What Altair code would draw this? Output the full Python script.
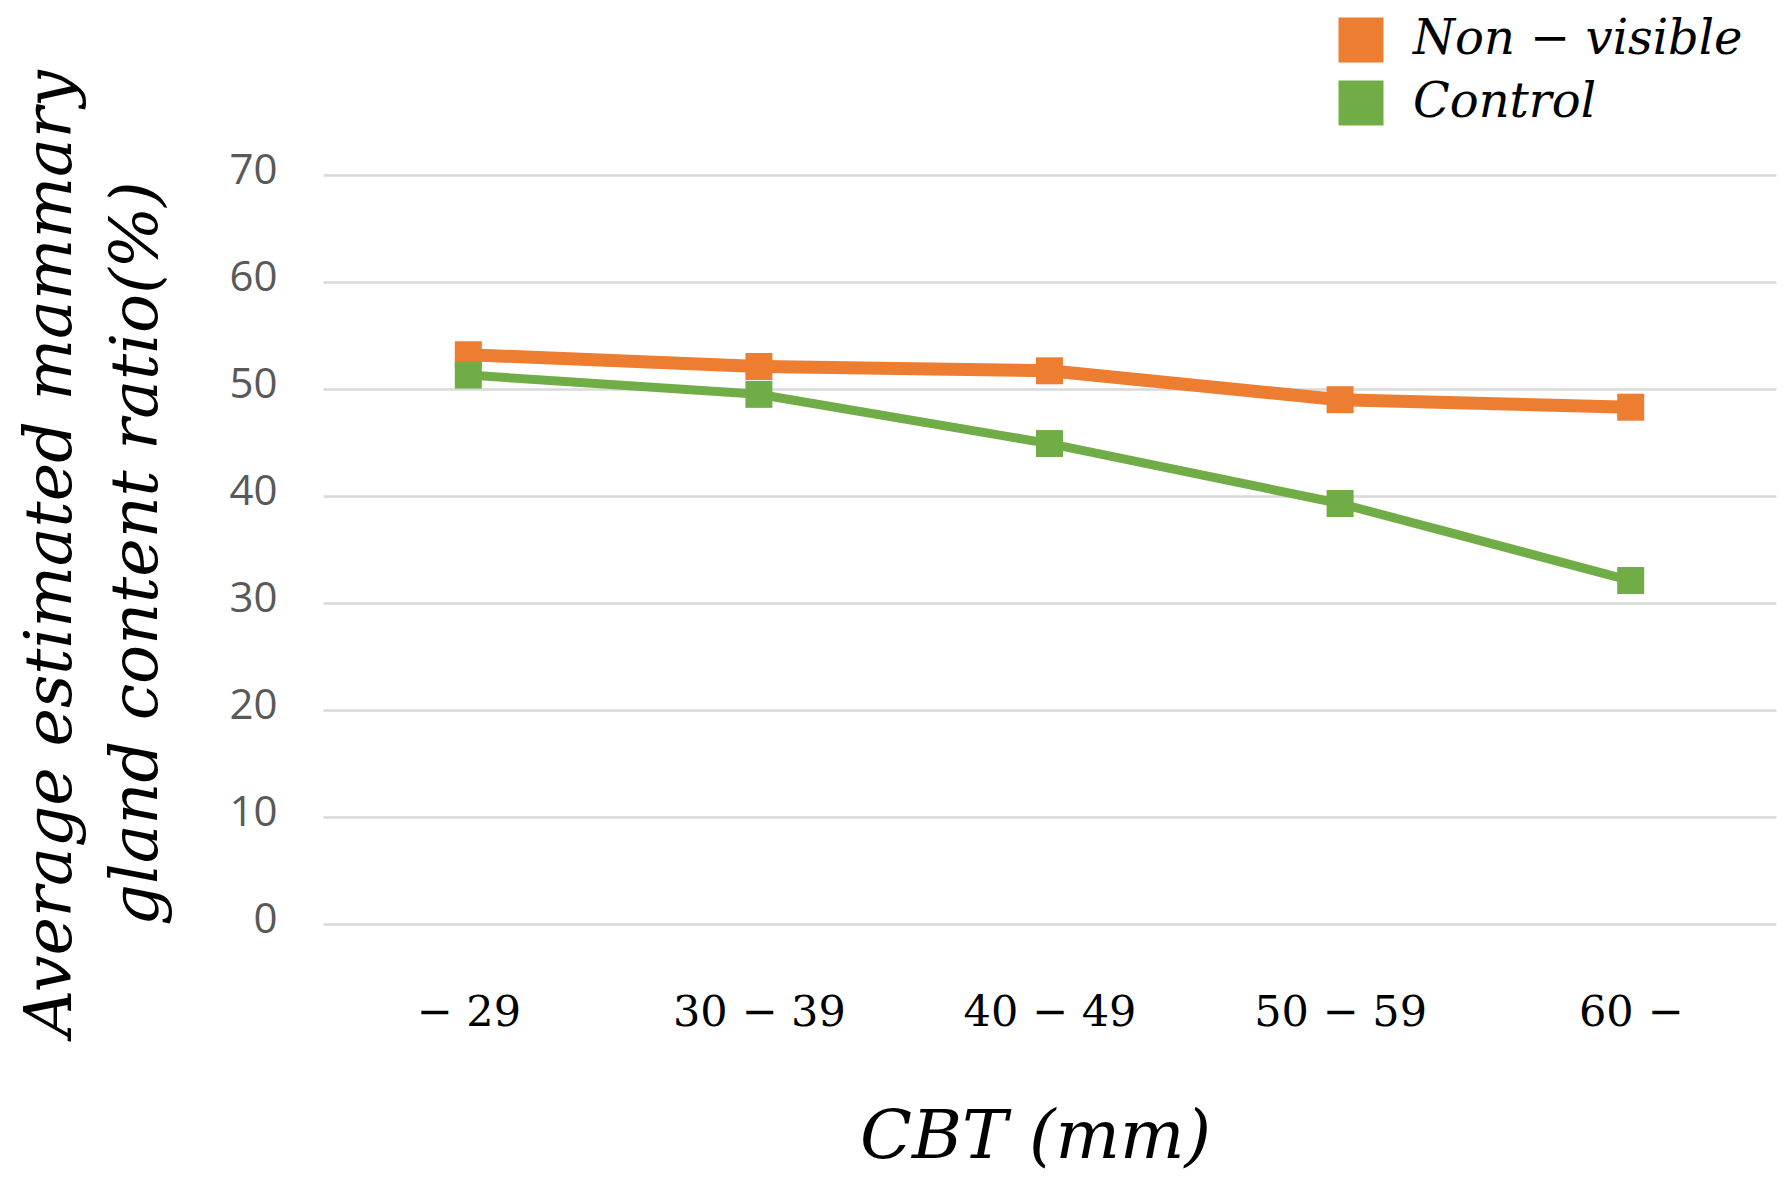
import altair as alt
import pandas as pd

categories = ["− 29", "30 − 39", "40 − 49", "50 − 59", "60 −"]
series_names = ["Non − visible", "Control"]
non_visible = [53.2, 52.1, 51.7, 49.0, 48.3]
control = [51.3, 49.5, 44.9, 39.3, 32.1]
y_ticks = [0, 10, 20, 30, 40, 50, 60, 70]
colors = ["#ED7D31", "#70AD47"]
y_title = ["Average estimated mammary", "gland content ratio(%)"]
x_title = "CBT (mm)"

rows = []
for c, v in zip(categories, non_visible):
    rows.append({"cbt": c, "series": series_names[0], "value": v})
for c, v in zip(categories, control):
    rows.append({"cbt": c, "series": series_names[1], "value": v})
df = pd.DataFrame(rows)

x_enc = alt.X(
    "cbt:N",
    sort=categories,
    scale=alt.Scale(type="point", padding=0.5),
    axis=alt.Axis(
        title=x_title,
        titleFont="DejaVu Serif",
        titleFontStyle="italic",
        titleFontWeight="normal",
        titleFontSize=68,
        titleColor="black",
        titleX=712,
        titleY=233,
        titleBaseline="alphabetic",
        titleAlign="center",
        labelFont="DejaVu Serif",
        labelFontSize=43,
        labelColor="black",
        labelPadding=101,
        labelBaseline="alphabetic",
        labelAngle=0,
        ticks=False,
        tickSize=0,
        domain=False,
        grid=False,
    ),
)

y_enc = alt.Y(
    "value:Q",
    scale=alt.Scale(domain=[0, 70], nice=False, zero=True),
    axis=alt.Axis(
        values=y_ticks,
        title=y_title,
        titleFont="DejaVu Serif",
        titleFontStyle="italic",
        titleFontWeight="normal",
        titleFontSize=65,
        titleColor="black",
        titleAngle=270,
        titleX=-253,
        titleY=378,
        titleBaseline="alphabetic",
        titleAlign="center",
        titleLineHeight=86,
        labelFont="Open Sans",
        labelFontSize=42,
        labelColor="#595959",
        labelPadding=46,
        labelOffset=-5,
        ticks=False,
        tickSize=0,
        domain=False,
        grid=True,
        gridColor="#D9D9D9",
        gridWidth=2.5,
    ),
)

base = alt.Chart(df)

line_o = base.transform_filter(alt.datum.series == series_names[0]).mark_line(
    color=colors[0], strokeWidth=13, strokeJoin="round"
).encode(x=x_enc, y=y_enc)

line_g = base.transform_filter(alt.datum.series == series_names[1]).mark_line(
    color=colors[1], strokeWidth=9, strokeJoin="round"
).encode(x=x_enc, y=y_enc)

points = base.mark_square(size=729, opacity=1, filled=True).encode(
    x=x_enc,
    y=y_enc,
    color=alt.Color(
        "series:N",
        scale=alt.Scale(domain=series_names, range=colors),
        legend=alt.Legend(
            title=None,
            orient="none",
            legendX=1014,
            legendY=-159,
            direction="vertical",
            symbolType="square",
            symbolSize=2025,
            symbolStrokeWidth=0,
            symbolOpacity=1,
            labelFont="DejaVu Serif",
            labelFontStyle="italic",
            labelFontSize=48,
            labelColor="black",
            labelOffset=28,
            rowPadding=15,
            padding=0,
            labelLimit=600,
        ),
    ),
)

chart = alt.layer(line_o, line_g, points).properties(
    width=1453,
    height=749,
    autosize=alt.AutoSizeParams(type="none"),
    padding={"left": 315, "top": 167, "right": 4, "bottom": 256},
    background="white",
).configure_view(strokeOpacity=0)

chart.save("out.html", embed_options={"renderer": "svg", "actions": False})
